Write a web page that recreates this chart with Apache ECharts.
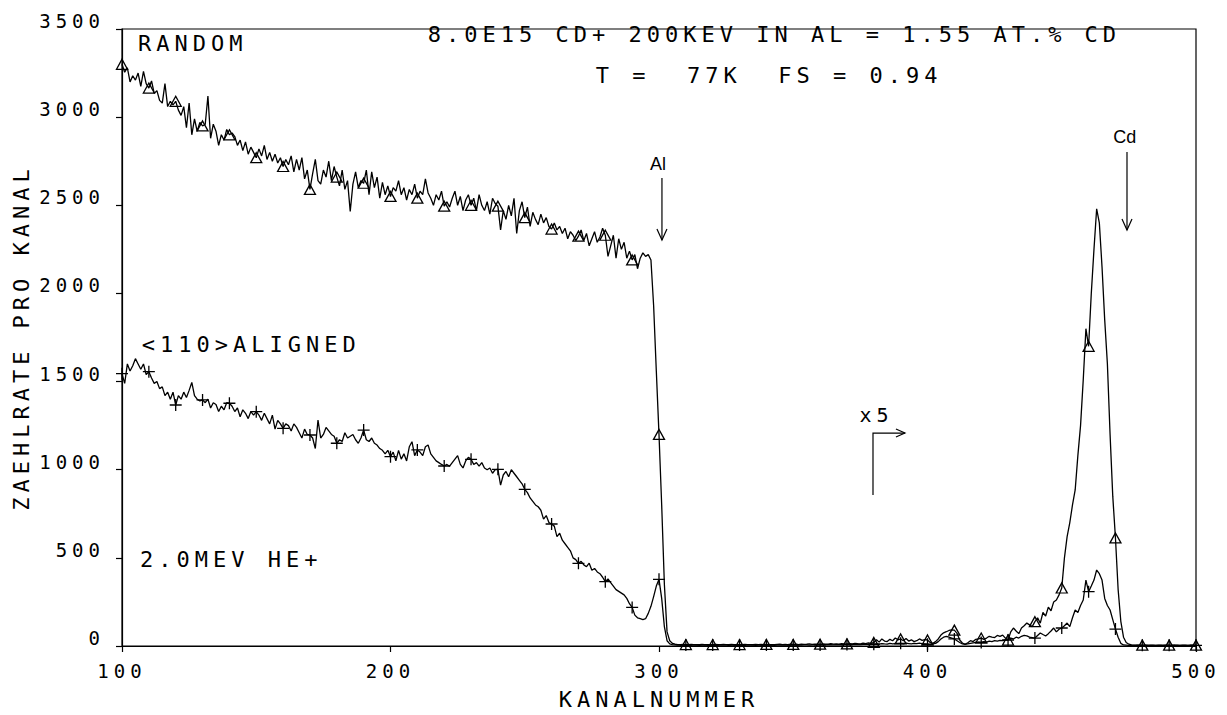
<!DOCTYPE html>
<html><head><meta charset="utf-8">
<script src="https://cdn.jsdelivr.net/npm/echarts@6/dist/echarts.min.js"></script>
<style>
html,body{margin:0;padding:0;background:#fff}
#chart{width:1227px;height:715px}
#chart text{letter-spacing:5px;white-space:pre}
#chart text[style*="Liberation"]{letter-spacing:0}
</style></head><body><div id="chart"></div>
<script>
// ---- data ----
const startChannel = 100;           // first channel of the count arrays (one value per channel)
const xTicks = [100, 200, 300, 400, 500];
const yTicks = [0, 500, 1000, 1500, 2000, 2500, 3000, 3500];
const markerEvery = 10;              // plotter marks every 10th channel

const randomCounts = [
  3300,3255,3280,3200,3235,3210,3250,3175,3260,3190,
  3165,3205,3135,3150,3095,3080,3190,3060,3090,3070,
  3090,3040,3010,3060,2940,3080,2900,2990,2920,2970,
  2950,2960,3120,2880,2960,2920,2840,2900,2870,2930,
  2900,2910,2890,2840,2870,2810,2860,2790,2830,2800,
  2770,2820,2780,2840,2760,2800,2750,2790,2740,2770,
  2720,2760,2730,2780,2690,2760,2700,2770,2650,2700,
  2590,2680,2760,2640,2620,2700,2660,2750,2640,2720,
  2660,2610,2700,2590,2640,2465,2620,2690,2600,2640,
  2625,2700,2560,2690,2600,2660,2540,2630,2560,2610,
  2550,2600,2580,2640,2560,2600,2530,2590,2560,2620,
  2540,2580,2560,2650,2570,2540,2500,2560,2530,2580,
  2495,2520,2490,2540,2580,2500,2550,2470,2530,2560,
  2500,2540,2470,2560,2500,2470,2520,2450,2540,2510,
  2495,2360,2470,2420,2500,2440,2540,2340,2470,2520,
  2430,2490,2380,2460,2420,2390,2450,2400,2430,2380,
  2365,2400,2360,2380,2340,2370,2310,2350,2330,2300,
  2325,2360,2300,2340,2270,2310,2350,2290,2320,2370,
  2330,2210,2270,2330,2200,2310,2250,2290,2200,2240,
  2190,2220,2140,2200,2230,2210,2220,2190,1930,1560,
  1200,800,350,80,30,15,10,8,8,9,
  8,7,9,8,7,8,9,7,8,8,
  8,9,7,8,9,8,7,9,8,7,
  8,7,9,8,8,7,9,8,9,8,
  9,8,7,8,9,10,8,9,8,10,
  9,10,8,11,9,10,12,9,10,11,
  10,12,11,10,13,11,12,10,13,12,
  12,14,12,15,13,12,16,14,18,15,
  20,35,22,40,28,25,38,30,45,35,
  40,30,42,28,35,25,30,40,32,36,
  34,20,15,25,40,62,75,81,88,92,
  90,72,34,17,10,18,30,25,38,40,
  45,38,45,55,50,48,60,55,62,45,
  34,80,102,85,70,102,115,130,120,110,
  138,160,130,190,170,220,200,250,261,290,
  329,500,620,700,800,885,1080,1250,1509,1800,
  1700,2000,2250,2480,2400,2150,1850,1600,1200,850,
  613,320,140,50,20,10,6,5,5,5,
  5,5,4,5,5,4,5,5,4,5,
  5,4,5,5,4,5,5,4,5,5,
  5
];

const alignedCounts = [
  1545,1490,1600,1560,1590,1630,1600,1570,1600,1540,
  1556,1520,1490,1500,1460,1470,1420,1440,1400,1440,
  1367,1420,1400,1440,1410,1450,1495,1420,1400,1390,
  1396,1380,1400,1350,1380,1370,1330,1360,1340,1380,
  1377,1360,1330,1350,1300,1340,1320,1290,1330,1310,
  1329,1310,1280,1320,1290,1260,1310,1230,1280,1260,
  1235,1260,1250,1220,1260,1240,1210,1180,1230,1200,
  1197,1180,1120,1282,1180,1200,1240,1220,1200,1190,
  1150,1170,1160,1210,1180,1190,1200,1170,1150,1180,
  1225,1170,1160,1180,1150,1140,1120,1110,1090,1110,
  1074,1100,1050,1110,1060,1090,1050,1130,1159,1080,
  1112,1100,1080,1130,1140,1090,1070,1050,1040,1030,
  1021,1030,1020,1040,1060,1080,1030,1010,1050,1070,
  1059,1030,1040,1020,1040,1010,1000,1010,980,1000,
  1002,913,970,990,960,1000,980,960,940,920,
  889,870,840,820,800,790,770,720,740,700,
  692,680,620,640,600,580,560,540,500,490,
  469,480,460,450,470,430,440,420,410,390,
  365,380,360,340,320,310,300,290,270,240,
  219,175,160,155,150,155,185,225,280,340,
  378,270,110,30,12,8,6,5,5,5,
  5,4,5,6,5,4,5,5,6,5,
  5,4,5,5,6,5,4,5,5,6,
  5,5,4,6,5,5,4,5,6,5,
  5,6,5,4,5,6,5,5,6,5,
  6,5,6,5,7,6,5,6,7,6,
  6,7,6,7,8,6,7,8,7,8,
  8,7,9,8,10,8,9,11,9,10,
  10,12,10,14,12,11,15,12,14,13,
  15,12,16,14,12,15,13,16,14,12,
  10,8,12,15,25,40,50,55,50,45,
  40,30,20,12,10,12,15,18,20,22,
  20,25,22,28,25,30,28,32,30,35,
  34,45,40,50,45,55,60,57,50,48,
  45,60,74,65,57,70,85,102,80,95,
  102,115,130,110,160,204,190,230,261,374,
  308,340,374,431,410,374,270,230,204,150,
  96,50,15,6,5,4,4,3,4,3,
  4,3,4,3,4,3,4,3,4,3,
  4,3,4,3,4,3,4,3,4,3,
  4
];

// annotation texts, anchored in data coordinates [channel, counts]
const textNotes = [
  { text: 'RANDOM', at: [106, 3415], align: 'left' },
  { text: '8.0E15 CD+ 200KEV IN AL = 1.55 AT.% CD', at: [343, 3470], align: 'center' },
  { text: 'T =  77K  FS = 0.94', at: [341, 3239], align: 'center' },
  { text: '<110>ALIGNED', at: [107.4, 1708], align: 'left' },
  { text: '2.0MEV HE+', at: [106.7, 488], align: 'left' },
  { text: 'x5', at: [381, 1310], align: 'center', small: true }
];
const elementNotes = [
  { text: 'Al', at: [299.6, 2735], arrowFrom: [301.1, 2655], arrowTo: [301.1, 2303] },
  { text: 'Cd', at: [473.5, 2885], arrowFrom: [474.3, 2802], arrowTo: [474.3, 2360] }
];
const bentArrow = [[379.7, 857], [379.7, 1208], [391.6, 1208]];

// ---- chart ----
const FONT = '"DejaVu Sans Mono", monospace';
const toPairs = arr => arr.map((v, i) => [startChannel + i, v]);

const chart = echarts.init(document.getElementById('chart'), null, { renderer: 'svg' });

const axisCommon = {
  axisLine: { show: true, lineStyle: { color: '#000', width: 1.2 } },
  axisTick: { show: true, inside: false, length: 6, lineStyle: { color: '#000', width: 1.2 } },
  splitLine: { show: false },
  nameLocation: 'middle',
  nameTextStyle: { fontFamily: FONT, fontSize: 22, color: '#000' }
};

chart.setOption({
  animation: false,
  backgroundColor: '#fff',
  grid: { left: 122, right: 31, top: 29, bottom: 69, show: true, borderColor: '#000', borderWidth: 1.2, backgroundColor: 'transparent' },
  xAxis: Object.assign({}, axisCommon, {
    type: 'value', min: xTicks[0], max: xTicks[xTicks.length - 1], interval: xTicks[1] - xTicks[0],
    name: 'KANALNUMMER', nameGap: 42,
    axisLabel: { fontFamily: FONT, fontSize: 19, color: '#000', margin: 15, formatter: v => String(v) }
  }),
  yAxis: Object.assign({}, axisCommon, {
    type: 'value', min: yTicks[0], max: yTicks[yTicks.length - 1], interval: yTicks[1] - yTicks[0],
    name: 'ZAEHLRATE PRO KANAL', nameGap: 90,
    axisLabel: { fontFamily: FONT, fontSize: 19, color: '#000', margin: 17, verticalAlign: 'bottom', lineHeight: 16, formatter: v => String(v) }
  }),
  series: [
    {
      name: 'RANDOM', type: 'line', data: toPairs(randomCounts),
      lineStyle: { color: '#000', width: 1.3 },
      symbol: (v, p) => (p.dataIndex % markerEvery === 0 ? 'triangle' : 'none'),
      symbolSize: [11, 10], showAllSymbol: true,
      itemStyle: { color: 'rgba(255,255,255,0)', borderColor: '#000', borderWidth: 1.3 },
      emphasis: { disabled: true }, z: 3
    },
    {
      name: '<110>ALIGNED', type: 'line', data: toPairs(alignedCounts),
      lineStyle: { color: '#000', width: 1.3 },
      symbol: (v, p) => (p.dataIndex % markerEvery === 0 ? 'path://M5,0L5,10M0,5L10,5' : 'none'),
      symbolSize: 12, showAllSymbol: true,
      itemStyle: { color: 'rgba(0,0,0,0)', borderColor: '#000', borderWidth: 1.3 },
      emphasis: { disabled: true }, z: 3
    }
  ]
});

const px = c => chart.convertToPixel({ xAxisIndex: 0, yAxisIndex: 0 }, c);
const graphics = [];
textNotes.forEach(n => {
  const p = px(n.at);
  graphics.push({ type: 'text', x: p[0], y: p[1], silent: true,
    style: { text: n.text, font: (n.small ? 20 : 22) + 'px ' + FONT, fill: '#000', align: n.align, verticalAlign: 'middle' } });
});
elementNotes.forEach(n => {
  const p = px(n.at), a = px(n.arrowFrom), b = px(n.arrowTo);
  graphics.push({ type: 'text', x: p[0], y: p[1], silent: true,
    style: { text: n.text, font: '18px "Liberation Sans"', fill: '#000', align: 'center', verticalAlign: 'middle' } });
  graphics.push({ type: 'polyline', silent: true, shape: { points: [a, b] }, style: { stroke: '#000', lineWidth: 1.2, fill: null } });
  graphics.push({ type: 'polyline', silent: true, shape: { points: [[b[0] - 5, b[1] - 11], b, [b[0] + 5, b[1] - 11]] }, style: { stroke: '#000', lineWidth: 1.2, fill: null } });
});
const bp = bentArrow.map(px);
graphics.push({ type: 'polyline', silent: true, shape: { points: bp }, style: { stroke: '#000', lineWidth: 1.2, fill: null } });
const e = bp[bp.length - 1];
graphics.push({ type: 'polyline', silent: true, shape: { points: [[e[0] - 9, e[1] - 4], e, [e[0] - 9, e[1] + 4]] }, style: { stroke: '#000', lineWidth: 1.2, fill: null } });
chart.setOption({ graphic: graphics });
</script></body></html>
